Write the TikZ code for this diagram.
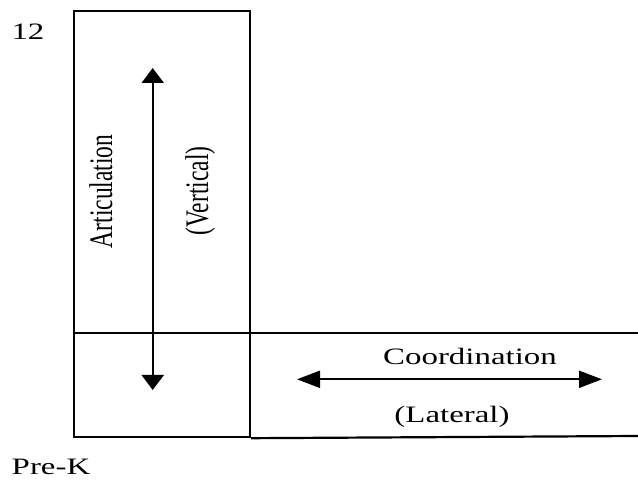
\documentclass[tikz,border=0pt]{standalone}
\usepackage{fontspec}
\setmainfont{Liberation Serif}
\usetikzlibrary{arrows.meta}
\tikzstyle{boxline} = [draw, line width=2.2pt]
\tikzstyle{txt} = [inner sep=0pt, font=\fontsize{23.5}{28}\selectfont]
\tikzstyle{vline} = [draw, line width=2pt,
    {Triangle[length=15pt,width=22pt]}-{Triangle[length=15pt,width=22pt]}]
\tikzstyle{hline} = [draw, line width=2pt,
    {Triangle[length=23pt,width=17pt]}-{Triangle[length=23pt,width=17pt]}]
\newcommand{\wide}[1]{\scalebox{1.4}[1]{#1}}
\newcommand{\tall}[1]{\scalebox{1}[1.4]{#1}}

\begin{document}
\begin{tikzpicture}[x=1pt,y=-1pt]
      \useasboundingbox (0,0) rectangle (638,481);
      % grade column and the two bands
      \node[boxline, anchor=north west, inner sep=0pt,
        minimum width=176pt, minimum height=426pt] (column) at (73,10) {};
      \coordinate (band top) at (638,333);
      \coordinate (band bottom) at (638,436);
      \draw[boxline] (column.west |- band top) -- (band top);
      \draw[boxline] (column.south east) -- (band bottom);
      % arrows
      \coordinate (up) at (152.7,68);
      \coordinate (down) at (152.7,390);
      \draw[vline] (down) -- (up);
      \coordinate (left) at (297,379.3);
      \coordinate (right) at (602,379.3);
      \draw[hline] (left) -- (right);
      % labels
      \node[txt] (grade12) at (28,32) {\wide{12}};
      \node[txt] (prek) at (51,466.5) {\wide{Pre-K}};
      \node[txt, rotate=90, anchor=base] (artic) at (112,191.5) {\tall{Articulation}};
      \node[txt, rotate=90, anchor=base] (vert) at (208,191) {\tall{(Vertical)}};
      \node[txt, anchor=base] (coord) at (470,365) {\wide{Coordination}};
      \node[txt, anchor=base] (lat) at (452,422) {\wide{(Lateral)}};
\end{tikzpicture}
\end{document}
